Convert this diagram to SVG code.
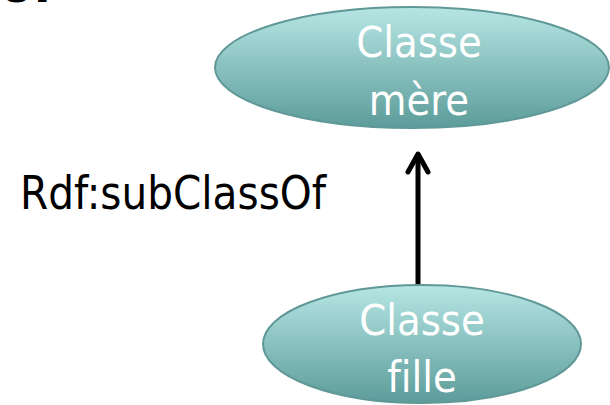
<svg xmlns="http://www.w3.org/2000/svg" width="610" height="405" viewBox="0 0 610 405">
  <style>
    .node { stroke: #5f9896; stroke-width: 2; fill: url(#g); }
    .nt { fill: #ffffff; font-family: "DejaVu Sans Condensed", "DejaVu Sans", sans-serif; font-stretch: condensed; font-size: 43px; text-anchor: middle; font-variant-ligatures: none; }
    .lbl { fill: #000000; font-family: "DejaVu Sans Condensed", "DejaVu Sans", sans-serif; font-stretch: condensed; font-size: 47px; }
    .conn { stroke: #000000; stroke-width: 5; fill: none; stroke-linecap: round; stroke-linejoin: round; }
  </style>
  <defs>
    <linearGradient id="g" x1="0" y1="0" x2="0" y2="1">
      <stop offset="0" stop-color="#b6e6e4"/>
      <stop offset="1" stop-color="#5c9c9a"/>
    </linearGradient>
  </defs>
  <rect width="610" height="405" fill="#ffffff"/>
  <text x="0" y="1.5" font-family="DejaVu Sans, sans-serif" font-weight="bold" font-size="48">of</text>
  <g id="connectors">
    <line class="conn" x1="418" y1="286" x2="418" y2="156"/>
    <polyline class="conn" points="408,172 418,154 428,172"/>
  </g>
  <g id="classe-mere">
    <ellipse class="node" cx="412" cy="67.5" rx="197" ry="60.5"/>
    <text class="nt" x="419" y="57">Classe</text>
    <text class="nt" x="419" y="115">mère</text>
  </g>
  <g id="classe-fille">
    <ellipse class="node" cx="422" cy="344" rx="159" ry="59"/>
    <text class="nt" x="422" y="335">Classe</text>
    <text class="nt" x="422" y="392">fille</text>
  </g>
  <text class="lbl" x="20" y="209" textLength="306" lengthAdjust="spacingAndGlyphs">Rdf:subClassOf</text>
</svg>
